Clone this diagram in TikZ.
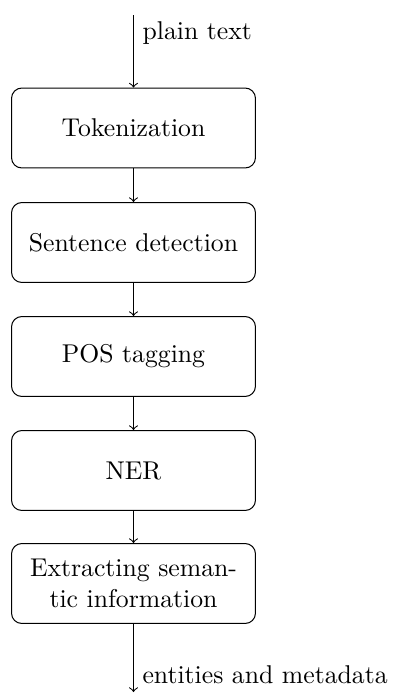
\documentclass[tikz,border=0pt]{standalone}
\begin{document}
\begin{tikzpicture}[x=0.389pt,y=-0.389pt,
  stage/.style={draw, rounded corners=4pt, minimum width=94.9pt,
    minimum height=31.1pt, text width=3cm, align=center},
  flow/.style={->}]
\useasboundingbox (0,0) rectangle (398,693);
% processing stages, top to bottom
\node[stage] (tok) at (133.5,128)   {Tokenization};
\node[stage] (sen) at (133.5,242.5) {Sentence detection};
\node[stage] (pos) at (133.5,356.5) {POS tagging};
\node[stage] (ner) at (133.5,470.5) {NER};
\node[stage] (sem) at (133.5,583.5) {Extracting semantic information};
% free ends of input and output
\coordinate (in)  at (133.5,15);
\coordinate (out) at (133.5,692);
\draw[flow] (in) -- (tok) node[near start, right] {plain text};
\draw[flow] (tok) -- (sen);
\draw[flow] (sen) -- (pos);
\draw[flow] (pos) -- (ner);
\draw[flow] (ner) -- (sem);
\draw[flow] (sem) -- (out) node[near end, right] {entities and metadata};
\end{tikzpicture}
\end{document}
